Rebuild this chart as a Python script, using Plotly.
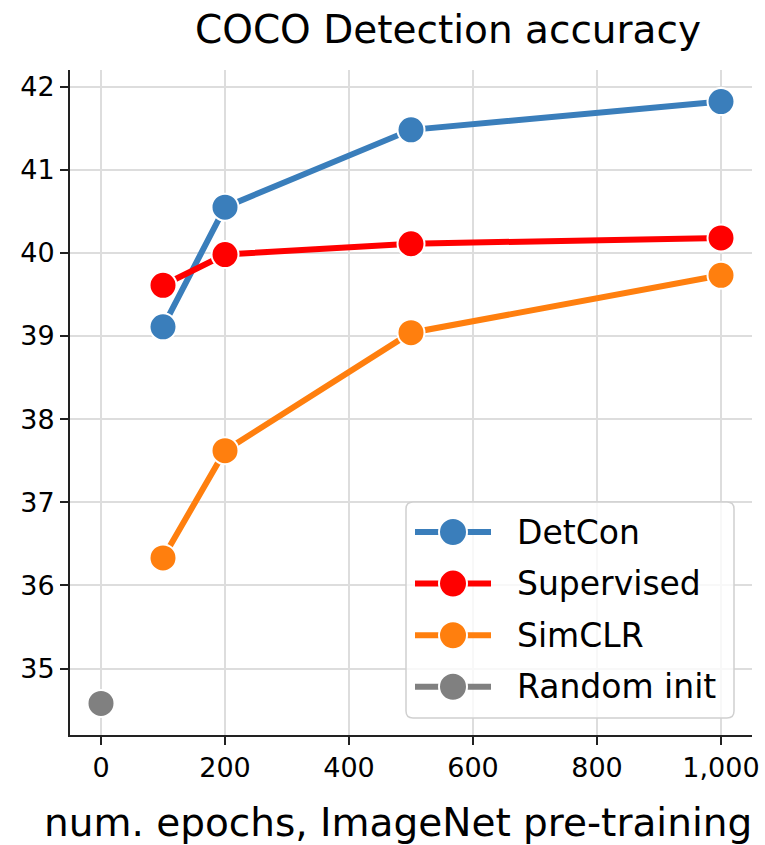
import plotly.graph_objects as go

# Pre-training epochs and COCO detection AP for each method
epochs = [100, 200, 500, 1000]
detcon = [39.11, 40.55, 41.48, 41.82]
supervised = [39.61, 39.98, 40.11, 40.18]
simclr = [36.33, 37.62, 39.04, 39.73]
random_epochs = [0]
random_init = [34.58]

series = [
    ("DetCon", epochs, detcon, "#3a7ebb"),
    ("Supervised", epochs, supervised, "#ff0000"),
    ("SimCLR", epochs, simclr, "#ff7f0e"),
    ("Random init", random_epochs, random_init, "#808080"),
]

FONT = "DejaVu Sans"
W, H = 765, 845
ML, MR, MT, MB = 70, 13, 70, 110
PW, PH = W - ML - MR, H - MT - MB


def px(x):
    """Horizontal pixel -> paper fraction."""
    return (x - ML) / PW


def py(y):
    """Vertical pixel (from top) -> paper fraction."""
    return (H - MB - y) / PH


fig = go.Figure()
for name, xs, ys, color in series:
    fig.add_trace(go.Scatter(
        x=xs, y=ys, name=name, mode="lines+markers",
        line=dict(color=color, width=6),
        marker=dict(color=color, size=27, line=dict(color="white", width=2)),
        cliponaxis=False, showlegend=False,
    ))

# Legend box (rounded frame) with one sample line + marker per series
LX0, LX1, LY0, LY1, RAD = 406, 734, 502, 718, 7
frame = (
    f"M {px(LX0 + RAD)},{py(LY0)} L {px(LX1 - RAD)},{py(LY0)} "
    f"Q {px(LX1)},{py(LY0)} {px(LX1)},{py(LY0 + RAD)} "
    f"L {px(LX1)},{py(LY1 - RAD)} Q {px(LX1)},{py(LY1)} {px(LX1 - RAD)},{py(LY1)} "
    f"L {px(LX0 + RAD)},{py(LY1)} Q {px(LX0)},{py(LY1)} {px(LX0)},{py(LY1 - RAD)} "
    f"L {px(LX0)},{py(LY0 + RAD)} Q {px(LX0)},{py(LY0)} {px(LX0 + RAD)},{py(LY0)} Z"
)
shapes = [dict(
    type="path", path=frame, xref="paper", yref="paper",
    fillcolor="rgba(255,255,255,0.8)", line=dict(color="#d0d0d0", width=1.5),
    layer="above",
)]
annotations = []
ENTRY_Y0, ENTRY_DY = 532, 51.6
SYM_X0, SYM_X1, SYM_XC, SYM_D = 415, 491, 453, 28
TEXT_X = 515
for i, (name, _, _, color) in enumerate(series):
    yc = ENTRY_Y0 + i * ENTRY_DY
    shapes.append(dict(
        type="line", xref="paper", yref="paper",
        x0=px(SYM_X0), x1=px(SYM_X1), y0=py(yc), y1=py(yc),
        line=dict(color=color, width=6), layer="above",
    ))
    shapes.append(dict(
        type="circle", xref="paper", yref="paper",
        x0=px(SYM_XC - SYM_D / 2), x1=px(SYM_XC + SYM_D / 2),
        y0=py(yc + SYM_D / 2), y1=py(yc - SYM_D / 2),
        fillcolor=color, line=dict(color="white", width=2), layer="above",
    ))
    annotations.append(dict(
        text=name, xref="paper", yref="paper",
        x=px(TEXT_X), y=py(yc), xanchor="left", yanchor="middle",
        showarrow=False, font=dict(size=33, family=FONT, color="black"),
    ))

annotations.append(dict(
    text="num. epochs, ImageNet pre-training",
    xref="paper", yref="paper",
    x=px(398), y=py(822),
    xanchor="center", yanchor="middle",
    showarrow=False,
    font=dict(size=39, family=FONT, color="black"),
))

fig.update_layout(
    width=W, height=H,
    margin=dict(l=ML, r=MR, t=MT, b=MB),
    paper_bgcolor="white", plot_bgcolor="white",
    font=dict(family=FONT, color="black"),
    showlegend=False,
    title=dict(
        text="COCO Detection accuracy",
        x=448 / W, xref="container", xanchor="center",
        y=1 - 29 / H, yref="container", yanchor="middle",
        font=dict(size=39, family=FONT, color="black"),
    ),
    shapes=shapes,
    annotations=annotations,
)

fig.update_xaxes(
    range=[-50, 1050],
    tickvals=[0, 200, 400, 600, 800, 1000],
    tickformat=",",
    showgrid=True, gridcolor="#dddddd", gridwidth=2,
    showline=True, linecolor="#222222", linewidth=2,
    ticks="outside", ticklen=8, tickwidth=2, tickcolor="#222222",
    tickfont=dict(size=27, family=FONT, color="black"),
    zeroline=False, automargin=False,
)
fig.update_yaxes(
    range=[34.2, 42.2],
    tickvals=[35, 36, 37, 38, 39, 40, 41, 42],
    showgrid=True, gridcolor="#dddddd", gridwidth=2,
    showline=True, linecolor="#222222", linewidth=2,
    ticks="outside", ticklen=8, tickwidth=2, tickcolor="#222222",
    tickfont=dict(size=27, family=FONT, color="black"),
    zeroline=False, automargin=False,
)

fig.write_html("out.html")
